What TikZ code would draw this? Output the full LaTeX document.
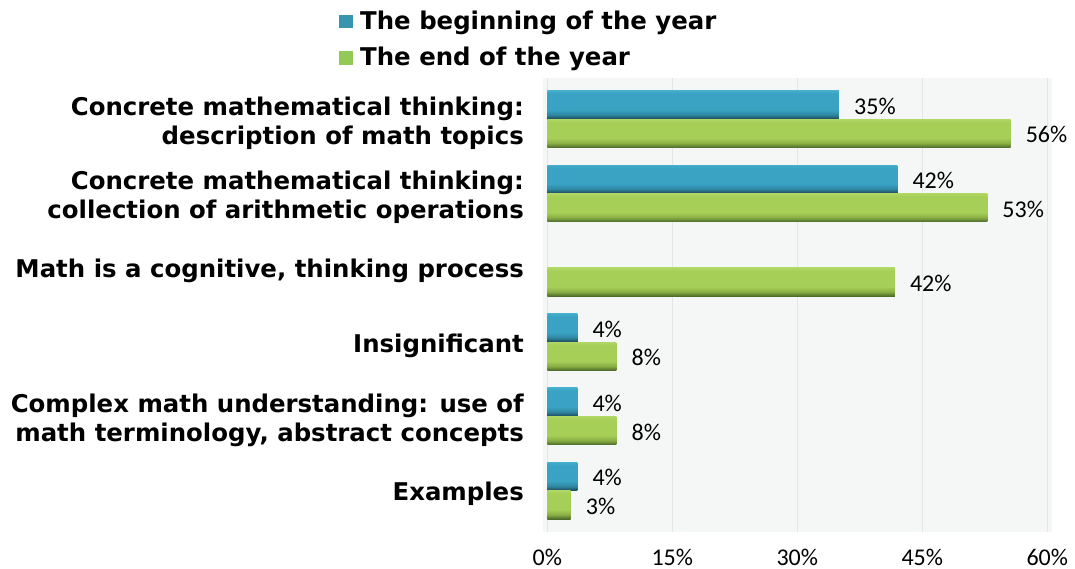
\documentclass[tikz,border=0pt]{standalone}
\usepackage{fontspec}
\setmainfont{DejaVu Sans}
\newfontfamily\calfont{Carlito}
\definecolor{begblue}{HTML}{3AA3C3}
\definecolor{begbluelt}{HTML}{44AECC}
\definecolor{begbluemd}{HTML}{2F87A2}
\definecolor{begbluedk}{HTML}{1B4553}
\definecolor{endgreen}{HTML}{A6CF58}
\definecolor{endgreenlt}{HTML}{B0D765}
\definecolor{endgreenmd}{HTML}{8AAF45}
\definecolor{endgreendk}{HTML}{4A6828}
\definecolor{legblue}{HTML}{3795AF}
\definecolor{leggreen}{HTML}{93C955}
\definecolor{plotbg}{HTML}{F5F7F7}
\definecolor{gridgray}{HTML}{E3E6E6}
\pgfdeclareverticalshading{blueshade}{100bp}{color(0bp)=(begbluedk); color(25bp)=(begbluedk); color(33bp)=(begbluemd); color(42bp)=(begblue); color(70bp)=(begblue); color(75bp)=(begbluelt); color(100bp)=(begbluelt)}
\pgfdeclareverticalshading{greenshade}{100bp}{color(0bp)=(endgreendk); color(25bp)=(endgreendk); color(33bp)=(endgreenmd); color(42bp)=(endgreen); color(70bp)=(endgreen); color(75bp)=(endgreenlt); color(100bp)=(endgreenlt)}

\begin{document}
\begin{tikzpicture}[x=1pt, y=-1pt,
  catlabel/.style={anchor=east, align=right, inner sep=0pt, font=\bfseries\fontsize{24.4}{29}\selectfont},
  legtext/.style={anchor=base west, inner sep=0pt, font=\bfseries\fontsize{24.4}{29}\selectfont},
  legbox/.style={minimum size=13.5pt, inner sep=0pt},
  vallabel/.style={anchor=base west, inner sep=0pt, font=\calfont\fontsize{24}{28}\selectfont},
  ticklabel/.style={anchor=base, inner sep=0pt, font=\calfont\fontsize{24}{28}\selectfont},
  gridline/.style={gridgray, line width=1pt}]
  \useasboundingbox (0,0) rectangle (1075,569);
  \fill[plotbg] (542.7,78.3) rectangle (1051.7,531.7);
  \foreach \p in {0,15,...,60}
    \draw[gridline] (547.3+8.333*\p,78.3) -- (547.3+8.333*\p,531.7);
  \foreach \k/\v/\t in {0/35/35, 1/42/42, 3/3.6/4, 4/3.6/4, 5/3.6/4}{
    \pgfmathsetmacro\cy{119.3+74.28*\k}
    \pgfmathsetmacro\xe{547.3+8.333*\v}
    \shade[shading=blueshade] (547.3,\cy-28.5) rectangle (\xe,\cy);
    \node[vallabel] (b\k) at (\xe+15,\cy-14.25+9.4) {\t\%};
  }
  \foreach \k/\v/\t in {0/55.6/56, 1/52.8/53, 2/41.7/42, 3/8.3/8, 4/8.3/8, 5/2.8/3}{
    \pgfmathsetmacro\cy{119.3+74.28*\k}
    \pgfmathsetmacro\xe{547.3+8.333*\v}
    \shade[shading=greenshade] (547.3,\cy) rectangle (\xe,\cy+28.4);
    \node[vallabel] (e\k) at (\xe+15,\cy+14.2+9.4) {\t\%};
  }
  \node[catlabel] (desc) at (524,119.3+3.9) {Concrete mathematical thinking:\\description of math topics};
  \node[catlabel] (arith) at (524,193.6+3.9) {Concrete mathematical thinking:\\collection of arithmetic operations};
  \node[catlabel, anchor=base east] (cogn) at (524,267.9+10) {Math is a cognitive, thinking process};
  \node[catlabel, anchor=base east] (insig) at (524,342.1+10) {Insignificant};
  \node[catlabel] (compl) at (524,416.4+3.9) {Complex math understanding: use of\\math terminology, abstract concepts};
  \node[catlabel, anchor=base east] (exam) at (524,490.7+10) {Examples};
  \foreach \p in {0,15,30,45,60}
    \node[ticklabel] (t\p) at (547.3+8.333*\p,565) {\p\%};
  \node[legbox, fill=legblue] (kbeg) at (346,21.7) {};
  \node[legtext] (lbeg) at (360,29.3) {The beginning of the year};
  \node[legbox, fill=leggreen] (kend) at (346,57.8) {};
  \node[legtext] (lend) at (360,66) {The end of the year};
\end{tikzpicture}
\end{document}
